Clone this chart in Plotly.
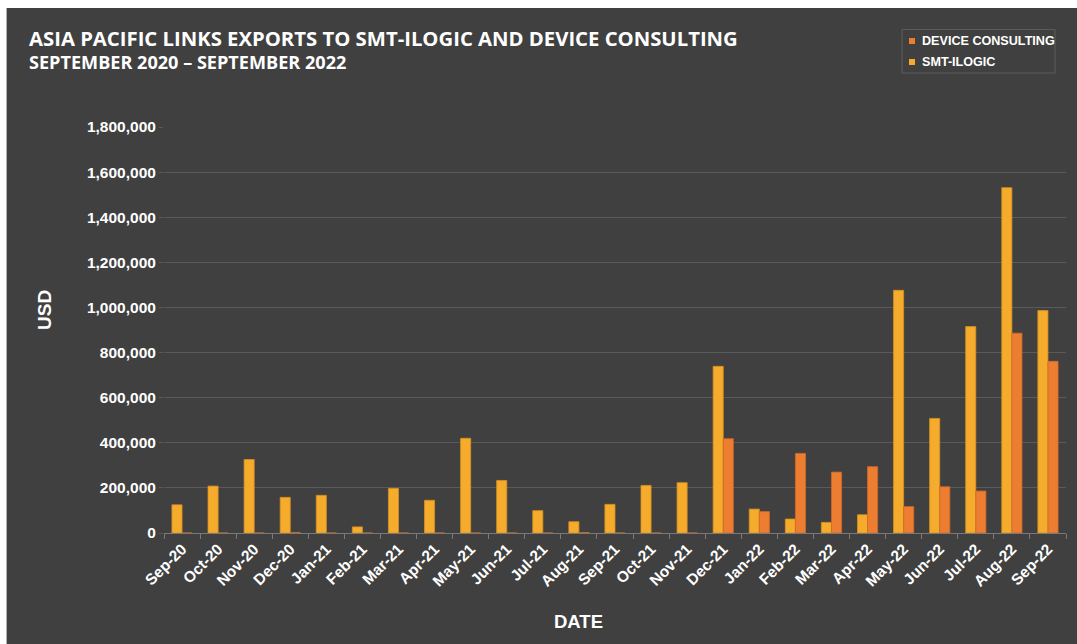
import plotly.graph_objects as go

months = ["Sep-20", "Oct-20", "Nov-20", "Dec-20", "Jan-21", "Feb-21", "Mar-21", "Apr-21",
          "May-21", "Jun-21", "Jul-21", "Aug-21", "Sep-21", "Oct-21", "Nov-21", "Dec-21",
          "Jan-22", "Feb-22", "Mar-22", "Apr-22", "May-22", "Jun-22", "Jul-22", "Aug-22", "Sep-22"]

smt_ilogic = [125000, 208000, 326000, 158000, 167000, 27000, 198000, 145000,
              420000, 233000, 99000, 50000, 127000, 211000, 223000, 739000,
              106000, 62000, 47000, 81000, 1076000, 508000, 915000, 1531000, 986000]

device_consulting = [0, 0, 0, 2000, 0, 0, 0, 0,
                     0, 0, 0, 2000, 0, 0, 0, 418000,
                     95000, 353000, 270000, 294000, 117000, 205000, 186000, 886000, 761000]

y_ticks = [0, 200000, 400000, 600000, 800000, 1000000, 1200000, 1400000, 1600000, 1800000]

legend_names = ["DEVICE CONSULTING", "SMT-ILOGIC"]

BG = "#404040"
YELLOW = "#F5AB2C"
ORANGE = "#ED7D31"
FONT = "Liberation Sans"

# plot area pixel geometry
W, H = 1077, 644
L, R, T, B = 164, 11, 127, 111
PW = W - L - R
PH = H - T - B


def px_x(px):
    return (px - L) / PW


def px_y(py):
    return (H - B - py) / PH


fig = go.Figure()
fig.add_trace(go.Bar(
    x=months, y=smt_ilogic, name="SMT-ILOGIC",
    marker=dict(color=YELLOW, line=dict(color="#D8901E", width=0.8)),
))
fig.add_trace(go.Bar(
    x=months, y=device_consulting, name="DEVICE CONSULTING",
    marker=dict(color=ORANGE, line=dict(color="#D06A26", width=0.8)),
))

# custom legend (box, swatches, labels)
legend_shapes = [
    dict(type="rect", xref="paper", yref="paper",
         x0=px_x(902), x1=px_x(1055), y0=px_y(73), y1=px_y(29.5),
         fillcolor=BG, line=dict(color="#5c5c5c", width=1)),
]
legend_annots = []
for i, (name, col) in enumerate(zip(legend_names, [ORANGE, YELLOW])):
    cy = 41 + i * 21
    legend_shapes.append(dict(type="rect", xref="paper", yref="paper",
                              x0=px_x(909), x1=px_x(915), y0=px_y(cy + 3), y1=px_y(cy - 3),
                              fillcolor=col, line=dict(width=0)))
    legend_annots.append(dict(text=name, xref="paper", yref="paper",
                              x=px_x(920), y=px_y(cy), xanchor="left", yanchor="middle",
                              showarrow=False,
                              font=dict(family=FONT, size=12.6, color="white", weight="bold")))

fig.update_layout(
    width=W, height=H,
    margin=dict(l=L, r=R, t=T, b=B, autoexpand=False),
    paper_bgcolor=BG, plot_bgcolor=BG,
    barmode="group", bargap=0.44, bargroupgap=0,
    font=dict(family=FONT, color="white", size=14),
    showlegend=False,
    xaxis=dict(
        tickangle=-45,
        tickfont=dict(family=FONT, size=15.5, color="white", weight="bold"),
        showline=True, linecolor="#7a7a7a", linewidth=1,
        ticks="outside", tickson="boundaries", ticklen=5, tickcolor="#7a7a7a",
        showgrid=False,
    ),
    yaxis=dict(
        range=[0, 1800000], tickvals=y_ticks,
        tickformat=",d",
        tickfont=dict(family=FONT, size=15.5, color="white", weight="bold"),
        showgrid=True, gridcolor="#5a5a5a", gridwidth=1,
        zeroline=False, showline=False,
        ticks="outside", ticklen=4, tickcolor="#5a5a5a",
    ),
    shapes=[
        dict(type="rect", xref="paper", yref="paper",
             x0=px_x(-2), x1=px_x(7), y0=px_y(H + 2), y1=px_y(-2),
             fillcolor="white", line=dict(width=0), layer="above"),
        dict(type="rect", xref="paper", yref="paper",
             x0=px_x(-2), x1=px_x(W + 2), y0=px_y(8), y1=px_y(-2),
             fillcolor="white", line=dict(width=0), layer="above"),
        dict(type="line", xref="paper", yref="paper",
             x0=px_x(6.5), x1=px_x(6.5), y0=px_y(H), y1=px_y(8),
             line=dict(color="#b0b0b0", width=1)),
    ] + legend_shapes,
    annotations=[
        dict(text="ASIA PACIFIC LINKS EXPORTS TO SMT-ILOGIC AND DEVICE CONSULTING",
             xref="paper", yref="paper", x=px_x(27), y=px_y(38),
             xanchor="left", yanchor="middle", showarrow=False,
             font=dict(family="Open Sans", size=20.3, color="white", weight="bold")),
        dict(text="SEPTEMBER 2020 – SEPTEMBER 2022",
             xref="paper", yref="paper", x=px_x(27), y=px_y(62),
             xanchor="left", yanchor="middle", showarrow=False,
             font=dict(family="Open Sans", size=18.1, color="white", weight="bold")),
        dict(text="USD", xref="paper", yref="paper", x=px_x(44), y=px_y(310),
             xanchor="center", yanchor="middle", showarrow=False, textangle=-90,
             font=dict(family=FONT, size=19, color="white", weight="bold")),
        dict(text="DATE", xref="paper", yref="paper", x=px_x(578), y=px_y(621),
             xanchor="center", yanchor="middle", showarrow=False,
             font=dict(family=FONT, size=18.5, color="white", weight="bold")),
    ] + legend_annots,
)

fig.write_html("out.html")
